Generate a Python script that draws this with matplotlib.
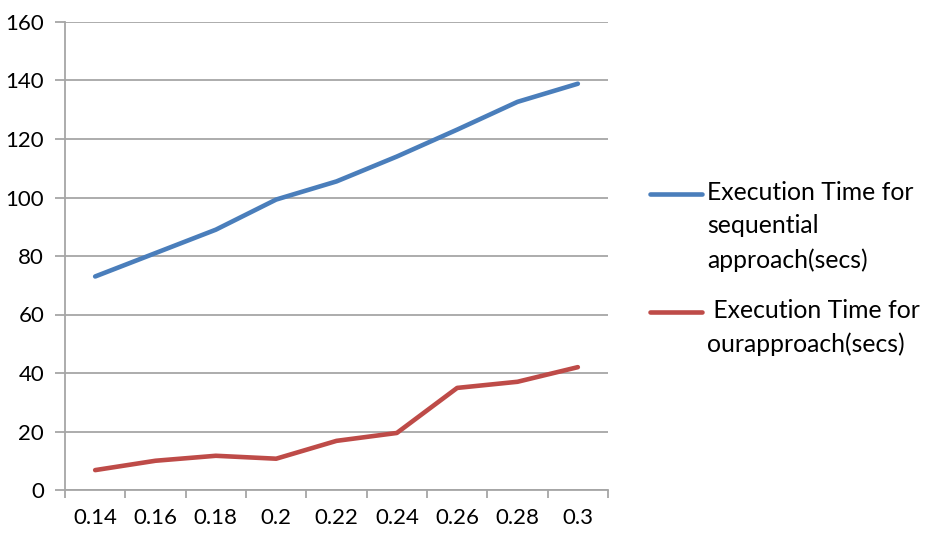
import matplotlib
matplotlib.use("Agg")
import matplotlib.pyplot as plt
from matplotlib.lines import Line2D

# data
categories = ["0.14", "0.16", "0.18", "0.2", "0.22", "0.24", "0.26", "0.28", "0.3"]
sequential_secs = [73, 81, 89, 99.3, 105.5, 114, 123.2, 132.7, 138.9]
our_secs = [6.8, 10, 11.7, 10.7, 16.8, 19.5, 34.9, 37, 42]

label_seq = "Execution Time for\nsequential\napproach(secs)"
label_our = " Execution Time for\nourapproach(secs)"

blue = "#4a7ebb"
red = "#be4b48"
grid_col = "#a6a6a6"

plt.rcParams["font.family"] = ["Lato", "DejaVu Sans"]

fig = plt.figure(figsize=(9.36, 5.35), dpi=100)
ax = fig.add_axes([65 / 936, 1 - 490 / 535, (608 - 65) / 936, (490 - 22) / 535])

x = list(range(len(categories)))
ax.plot(x, sequential_secs, color=blue, lw=3.3, solid_capstyle="round")
ax.plot(x, our_secs, color=red, lw=3.3, solid_capstyle="round")

ax.set_xlim(-0.5, len(categories) - 0.5)
ax.set_ylim(0, 160)
ax.set_yticks(range(0, 161, 20))
ax.yaxis.grid(True, color=grid_col, lw=1.3)
ax.set_axisbelow(True)

# labels at category centres, tick marks at boundaries
ax.set_xticks(x)
ax.set_xticklabels(categories)
ax.set_xticks([i - 0.5 for i in range(len(categories) + 1)], minor=True)
ax.tick_params(axis="x", which="major", length=0, pad=13, labelsize=16)
ax.tick_params(axis="x", which="minor", length=6, width=1.3, color=grid_col)
ax.tick_params(axis="y", length=7, width=1.3, color=grid_col, labelsize=16, pad=8)

for s in ["top", "right"]:
    ax.spines[s].set_visible(False)
for s in ["left", "bottom"]:
    ax.spines[s].set_color(grid_col)
    ax.spines[s].set_linewidth(1.3)

# legend drawn by hand so the handle sits on the first text line
def legend_entry(y_px, color, text):
    y = 1 - y_px / 535
    fig.add_artist(Line2D([650 / 936, 702 / 936], [y, y], color=color, lw=3.3,
                          solid_capstyle="round", transform=fig.transFigure))
    fig.text(707 / 936, y + 13 / 535, text, fontsize=17.8, va="top", ha="left",
             linespacing=1.55)

legend_entry(194, blue, label_seq)
legend_entry(312, red, label_our)

fig.savefig("out.png", dpi=100)
